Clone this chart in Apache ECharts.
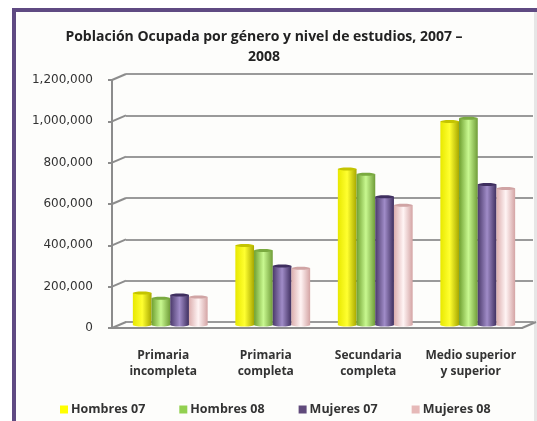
<!DOCTYPE html>
<html>
<head>
<meta charset="utf-8">
<style>
html, body { margin: 0; padding: 0; background: #fff; }
#chart { width: 537px; height: 421px; }
</style>
<script src="https://cdn.jsdelivr.net/npm/echarts@6/dist/echarts.min.js"></script>
</head>
<body>
<div id="chart"></div>
<script>
const titleText = 'Población Ocupada por género y nivel de estudios, 2007 –\n2008';
const categories = [ 'Primaria\nincompleta', 'Primaria\ncompleta', 'Secundaria\ncompleta', 'Medio superior\ny superior' ];
const tickValues = [ 0, 200000, 400000, 600000, 800000, 1000000, 1200000 ];
const hombres07 = [ 155000, 385000, 755000, 985000 ];
const hombres08 = [ 130000, 360000, 730000, 1000000 ];
const mujeres07 = [ 145000, 285000, 620000, 680000 ];
const mujeres08 = [ 135000, 275000, 580000, 660000 ];

const FONT = '"Open Sans", sans-serif';
// pixel offset of the back wall, the bars stand half way
const DEPTH_X = 14;
const DEPTH_Y = -6;
const BAR_WIDTH = 18.7;

const cylinder = ( edgeLeft, mid, edgeRight ) => ( {
	type: 'linear', x: 0, y: 0, x2: 1, y2: 0,
	colorStops: [
		{ offset: 0, color: edgeLeft },
		{ offset: 0.5, color: mid },
		{ offset: 1, color: edgeRight }
	]
} );

const seriesDefs = [
	{ name: 'Hombres 07', data: hombres07, color: '#ffff00', fill: cylinder( '#e8e800', '#ffff30', '#a8a800' ), top: '#c4c400' },
	{ name: 'Hombres 08', data: hombres08, color: '#92d050', fill: cylinder( '#6fa030', '#c8f890', '#6f9c38' ), top: '#7aaa40' },
	{ name: 'Mujeres 07', data: mujeres07, color: '#604a7b', fill: cylinder( '#4b3a6b', '#a08cc8', '#3f2f5f' ), top: '#3f2f5f' },
	{ name: 'Mujeres 08', data: mujeres08, color: '#e6b9b8', fill: cylinder( '#dcaeae', '#fff4f4', '#d4a4a4' ), top: '#d0a4a4' }
];

const renderBar = ( def, index ) => ( params, api ) => {
	const cat = api.value( 0 );
	const value = api.value( 1 );
	const top = api.coord( [ cat, value ] );
	const base = api.coord( [ cat, 0 ] );
	const x = top[ 0 ] + DEPTH_X / 2 + ( index - 2 ) * BAR_WIDTH;
	const yTop = top[ 1 ] + DEPTH_Y / 2;
	const yBase = base[ 1 ] + DEPTH_Y / 2;
	const cx = x + BAR_WIDTH / 2;
	return {
		type: 'group',
		children: [
			{ type: 'ellipse', shape: { cx, cy: yBase, rx: BAR_WIDTH / 2, ry: 1.5 }, style: { fill: def.fill } },
			{ type: 'rect', shape: { x, y: yTop, width: BAR_WIDTH, height: yBase - yTop }, style: { fill: def.fill } },
			{ type: 'ellipse', shape: { cx, cy: yTop, rx: BAR_WIDTH / 2, ry: 1.5 }, style: { fill: def.top } }
		]
	};
};

// little slanted ticks joining the front axis with the back wall
const renderSlant = ( params, api ) => {
	const p = api.coord( [ 0, api.value( 0 ) ] );
	const band = api.size( [ 1, 0 ] )[ 0 ];
	const x = p[ 0 ] - band / 2;
	return {
		type: 'line',
		shape: { x1: x, y1: p[ 1 ], x2: x + DEPTH_X, y2: p[ 1 ] + DEPTH_Y },
		style: { stroke: '#8c8c8c', lineWidth: 2 }
	};
};

const renderFloorEnd = ( params, api ) => {
	const p = api.coord( [ 3, 0 ] );
	const band = api.size( [ 1, 0 ] )[ 0 ];
	const x = p[ 0 ] + band / 2;
	return {
		type: 'line',
		shape: { x1: x, y1: p[ 1 ], x2: x + DEPTH_X, y2: p[ 1 ] + DEPTH_Y },
		style: { stroke: '#8c8c8c', lineWidth: 2 }
	};
};

const chart = echarts.init( document.getElementById( 'chart' ), null, { renderer: 'canvas' } );

chart.setOption( {
	animation: false,
	backgroundColor: '#ffffff',
	graphic: [
		{ type: 'rect', z: -10, shape: { x: 12, y: 8, width: 525, height: 413 }, style: { fill: '#fdfdfb' } },
		{ type: 'rect', z: -9, shape: { x: 12, y: 8, width: 525, height: 4 }, style: { fill: '#5f4a82' } },
		{ type: 'rect', z: -9, shape: { x: 12, y: 8, width: 4, height: 413 }, style: { fill: '#5f4a82' } },
		{ type: 'rect', z: -9, shape: { x: 534, y: 12, width: 3, height: 409 }, style: { fill: '#e6e6e6' } }
	],
	title: {
		text: titleText,
		left: 259,
		top: 22,
		textAlign: 'center',
		textStyle: { fontFamily: FONT, fontSize: 14, fontWeight: 'bold', color: '#222', lineHeight: 20 }
	},
	legend: {
		left: 55,
		top: 398,
		icon: 'rect',
		itemWidth: 8,
		itemHeight: 8,
		itemGap: 34,
		data: seriesDefs.map( ( def ) => ( { name: def.name, itemStyle: { color: def.color } } ) ),
		textStyle: { fontFamily: FONT, fontSize: 12.5, fontWeight: 'bold', color: '#333', padding: [ 0, 0, 0, -2 ] }
	},
	grid: [
		{ left: 112, right: 15, top: 80, bottom: 93 },
		{ left: 126, right: 4, top: 74, bottom: 99 }
	],
	xAxis: [
		{
			type: 'category',
			gridIndex: 0,
			data: categories,
			axisLine: { lineStyle: { color: '#8c8c8c', width: 2 } },
			axisTick: { length: 4, alignWithLabel: false, lineStyle: { color: '#8c8c8c', width: 2 } },
			axisLabel: { margin: 20, interval: 0, fontFamily: FONT, fontSize: 12, fontWeight: 'bold', color: '#333', lineHeight: 16 }
		},
		{
			type: 'category',
			gridIndex: 1,
			data: categories,
			axisLine: { show: true, lineStyle: { color: '#9a9a9a', width: 2 } },
			axisTick: { show: false },
			axisLabel: { show: false }
		}
	],
	yAxis: [
		{
			type: 'value',
			gridIndex: 0,
			min: 0,
			max: 1200000,
			interval: 200000,
			axisLine: { show: true, lineStyle: { color: '#8c8c8c', width: 2 } },
			axisTick: { show: true, length: 4, lineStyle: { color: '#8c8c8c', width: 2 } },
			splitLine: { show: false },
			axisLabel: {
				margin: 19,
				fontFamily: '"DejaVu Sans", sans-serif',
				fontSize: 12,
				color: '#333',
				formatter: ( v ) => v.toLocaleString( 'en-US' )
			}
		},
		{
			type: 'value',
			gridIndex: 1,
			min: 0,
			max: 1200000,
			interval: 200000,
			axisLine: { show: false },
			axisTick: { show: false },
			axisLabel: { show: false },
			splitLine: { show: true, lineStyle: { color: '#9a9a9a', width: 2 } }
		}
	],
	series: [
		{
			type: 'custom',
			coordinateSystem: 'cartesian2d',
			xAxisIndex: 0,
			yAxisIndex: 0,
			clip: false,
			silent: true,
			z: 1,
			data: tickValues.map( ( v ) => [ v ] ),
			encode: { y: 0 },
			renderItem: renderSlant
		},
		{
			type: 'custom',
			coordinateSystem: 'cartesian2d',
			xAxisIndex: 0,
			yAxisIndex: 0,
			clip: false,
			silent: true,
			z: 1,
			data: [ [ 0 ] ],
			encode: { y: 0 },
			renderItem: renderFloorEnd
		},
		...seriesDefs.map( ( def, i ) => ( {
			name: def.name,
			type: 'custom',
			coordinateSystem: 'cartesian2d',
			xAxisIndex: 0,
			yAxisIndex: 0,
			clip: false,
			z: 5,
			itemStyle: { color: def.color },
			data: def.data.map( ( v, c ) => [ c, v ] ),
			encode: { x: 0, y: 1 },
			renderItem: renderBar( def, i )
		} ) )
	]
} );
</script>
</body>
</html>
